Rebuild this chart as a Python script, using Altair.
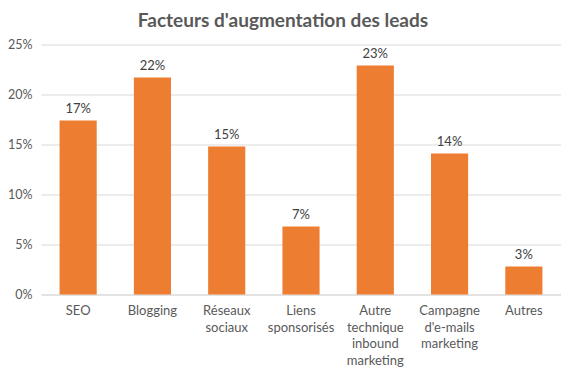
import altair as alt
import pandas as pd

categories = ["SEO", "Blogging", "Réseaux\nsociaux", "Liens\nsponsorisés",
              "Autre\ntechnique\ninbound\nmarketing", "Campagne\nd'e-mails\nmarketing", "Autres"]
values = [0.174, 0.217, 0.148, 0.068, 0.229, 0.141, 0.028]

df = pd.DataFrame({"cat": categories, "val": values})

FONT = "Lato"
base = alt.Chart(df).encode(
    x=alt.X("cat:N", sort=categories, title=None,
            scale=alt.Scale(paddingInner=0.5, paddingOuter=0.25),
            axis=alt.Axis(labelExpr="split(datum.label, '\\n')", labelAngle=0,
                          labelLineHeight=16.5, labelPadding=10, labelFontSize=13,
                          labelColor="#595959", labelFont=FONT, ticks=False,
                          domainColor="#d9d9d9", domainWidth=1, labelBaseline="top")),
    y=alt.Y("val:Q", title=None,
            scale=alt.Scale(domain=[0, 0.25]),
            axis=alt.Axis(format=".0%", values=[0, 0.05, 0.10, 0.15, 0.20, 0.25],
                          grid=True, gridColor="#d9d9d9", domain=False, ticks=False,
                          labelFontSize=12.5, labelColor="#595959", labelFont=FONT,
                          labelPadding=9)),
)

bars = base.mark_bar(color="#ED7D31")
labels = base.mark_text(baseline="bottom", dy=-5, fontSize=13, color="#404040", font=FONT).encode(
    text=alt.Text("val:Q", format=".0%")
)

chart = (bars + labels).properties(
    width=520, height=250,
    autosize=alt.AutoSizeParams(type="none"),
    padding={"left": 33, "top": 36.5, "right": 0, "bottom": 72},
    title=alt.TitleParams("Facteurs d'augmentation des leads", fontSize=19, font=FONT,
                          fontWeight="bold", color="#595959", anchor="middle",
                          dx=-18, offset=8),
).configure_view(stroke=None)

chart.save("out.html", embed_options={"renderer": "svg", "actions": False})
